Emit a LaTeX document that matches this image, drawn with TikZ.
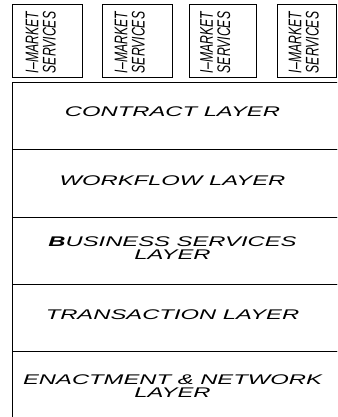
\documentclass[tikz,border=0pt]{standalone}
\usepackage{fontspec}
\setmainfont{Liberation Sans}
\usepackage{graphicx}
\newcommand{\layertext}[1]{\scalebox{1.7}[1]{\fontsize{14}{13}\selectfont\itshape\begin{tabular}{@{}c@{}}#1\end{tabular}}}
\newcommand{\servtext}[1]{\rotatebox{90}{\scalebox{1}[1.5]{\fontsize{12.2}{10}\selectfont\itshape\begin{tabular}{@{}c@{}}#1\end{tabular}}}}
\begin{document}
\begin{tikzpicture}[x=1pt,y=-1pt,line width=0.9pt,
  layerbox/.style={draw,rectangle,anchor=north west,inner sep=0pt,minimum width=340pt},
  servbox/.style={draw,rectangle,anchor=north west,inner sep=0pt,minimum height=73pt},
  ltext/.style={inner sep=0pt,anchor=center}]
\useasboundingbox (0,0) rectangle (337,417);
\clip (0,0) rectangle (337,417);
% service boxes
\node[servbox,minimum width=69.5pt] (s1) at (12.3,4) {};
\node[servbox,minimum width=70pt] (s2) at (102.3,4) {};
\node[servbox,minimum width=67pt] (s3) at (189,4) {};
\node[servbox,minimum width=59pt] (s4) at (277,4) {};
\node[ltext] (ts1) at (43,42.5) {\servtext{I–MARKET\\SERVICES}};
\node[ltext] (ts2) at (132,42.5) {\servtext{I–MARKET\\SERVICES}};
\node[ltext] (ts3) at (217.5,42.5) {\servtext{I–MARKET\\SERVICES}};
\node[ltext] (ts4) at (306,42.5) {\servtext{I–MARKET\\SERVICES}};
% layers
\node[layerbox,minimum height=67pt] (contract) at (12,82) {};
\node[layerbox,minimum height=68pt] (workflow) at (12,149) {};
\node[layerbox,minimum height=67pt] (business) at (12,217) {};
\node[layerbox,minimum height=67pt] (transaction) at (12,284) {};
\node[layerbox,minimum height=80pt] (enactment) at (12,351) {};
% layer texts
\node[ltext] (tcontract) at (172.5,114) {\layertext{CONTRACT LAYER}};
\node[ltext] (tworkflow) at (172.5,183) {\layertext{WORKFLOW LAYER}};
\node[ltext] (tbusiness) at (172.5,250) {\layertext{\textbf{B}USINESS SERVICES\\LAYER}};
\node[ltext] (ttransaction) at (172.5,317) {\layertext{TRANSACTION LAYER}};
\node[ltext] (tenactment) at (172.5,388) {\layertext{ENACTMENT \& NETWORK\\LAYER}};
\end{tikzpicture}
\end{document}
